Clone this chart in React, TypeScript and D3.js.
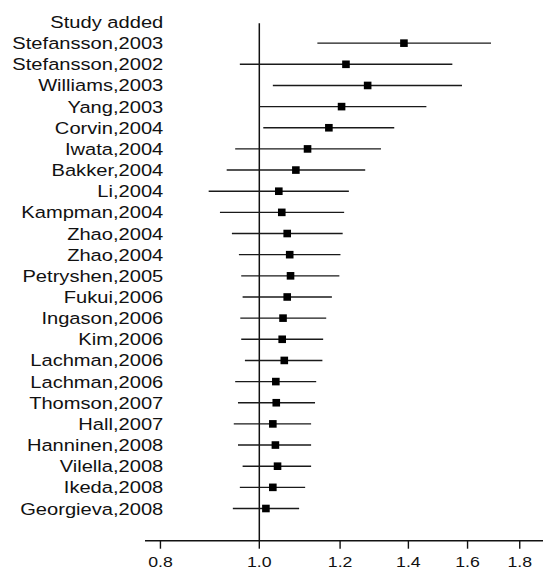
import * as d3 from "d3";

// cumulative meta-analysis, odds ratio with 95% CI
const studies = [
  "Stefansson,2003",
  "Stefansson,2002",
  "Williams,2003",
  "Yang,2003",
  "Corvin,2004",
  "Iwata,2004",
  "Bakker,2004",
  "Li,2004",
  "Kampman,2004",
  "Zhao,2004",
  "Zhao,2004",
  "Petryshen,2005",
  "Fukui,2006",
  "Ingason,2006",
  "Kim,2006",
  "Lachman,2006",
  "Lachman,2006",
  "Thomson,2007",
  "Hall,2007",
  "Hanninen,2008",
  "Vilella,2008",
  "Ikeda,2008",
  "Georgieva,2008",
];
const oddsRatio = [
  1.386, 1.216, 1.277, 1.204, 1.17, 1.115, 1.086, 1.045, 1.052, 1.065, 1.071,
  1.073, 1.065, 1.055, 1.053, 1.058, 1.038, 1.039, 1.031, 1.037, 1.042, 1.031,
  1.015,
];
const lower = [
  1.14, 0.957, 1.031, 1.0, 1.009, 0.947, 0.929, 0.892, 0.915, 0.94, 0.955,
  0.96, 0.963, 0.958, 0.96, 0.968, 0.947, 0.953, 0.944, 0.953, 0.963, 0.957,
  0.942,
];
const upper = [
  1.687, 1.546, 1.58, 1.458, 1.356, 1.316, 1.27, 1.224, 1.211, 1.207, 1.201,
  1.198, 1.178, 1.163, 1.155, 1.153, 1.137, 1.134, 1.124, 1.124, 1.124, 1.109,
  1.094,
];
const tickValues = [0.8, 1.0, 1.2, 1.4, 1.6, 1.8];
const header = "Study added";

const W = 543;
const H = 571;

export default function App() {
  const x = d3.scaleLog().domain([0.7726, 1.897]).range([145, 543]);
  const rows = [header, ...studies.map((_, i) => `r${i}`)];
  const y = d3.scalePoint<string>().domain(rows).range([22, 508.5]);
  const axisY = 540.7;
  const labelX = 163.3;
  const font = "'Liberation Sans', Arial, Helvetica, sans-serif";
  const sq = 7.6;

  return (
    <svg
      width={W}
      height={H}
      style={{ position: "absolute", left: 0, top: 0, background: "#fff" }}
    >
      {/* row labels */}
      {rows.map((r, i) => (
        <g key={"lab" + i} transform={`translate(${labelX},${y(r)! + 6}) scale(1.17,1)`}>
          <text
            textAnchor="end"
            fontFamily={font}
            fontSize={17.2}
            fill="#111"
          >
            {i === 0 ? header : studies[i - 1]}
          </text>
        </g>
      ))}

      {/* reference line at OR = 1 */}
      <line
        x1={x(1)}
        x2={x(1)}
        y1={23.3}
        y2={axisY}
        stroke="#111"
        strokeWidth={1.5}
      />

      {/* CI lines and point estimates */}
      {studies.map((s, i) => {
        const cy = y(`r${i}`)!;
        return (
          <g key={"row" + i}>
            <line
              x1={x(lower[i])}
              x2={x(upper[i])}
              y1={cy}
              y2={cy}
              stroke="#1a1a1a"
              strokeWidth={1.4}
            />
            <rect
              x={x(oddsRatio[i]) - sq / 2}
              y={cy - sq / 2}
              width={sq}
              height={sq}
              fill="#000"
            />
          </g>
        );
      })}

      {/* x axis */}
      <line x1={145} x2={W} y1={axisY} y2={axisY} stroke="#111" strokeWidth={1.4} />
      {tickValues.map((t) => (
        <g key={"t" + t}>
          <line
            x1={x(t)}
            x2={x(t)}
            y1={axisY}
            y2={axisY + 8}
            stroke="#111"
            strokeWidth={1.4}
          />
          <g transform={`translate(${x(t)},567) scale(1.14,1)`}>
            <text textAnchor="middle" fontFamily={font} fontSize={15.5} fill="#111">
              {t.toFixed(1)}
            </text>
          </g>
        </g>
      ))}
    </svg>
  );
}
